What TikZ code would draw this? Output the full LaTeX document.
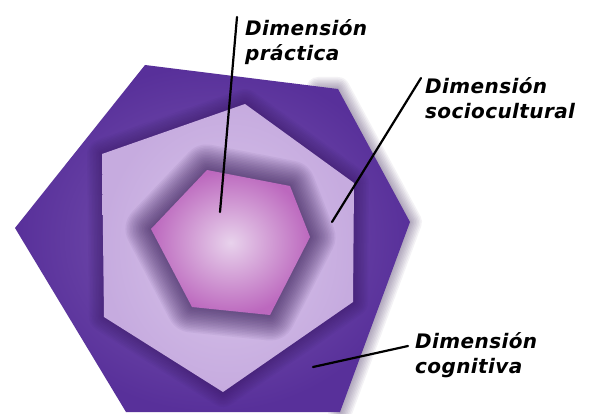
\documentclass[tikz,border=0pt]{standalone}
\usepackage{fontspec}
\newfontfamily\lblfont[LetterSpace=2]{DejaVu Sans}
\usetikzlibrary{positioning}

\definecolor{outerdark}{HTML}{58309A}
\definecolor{outermid}{HTML}{7E5AB4}
\definecolor{midlav}{HTML}{C6ABDF}
\definecolor{midlight}{HTML}{D8C4EA}
\definecolor{halo}{HTML}{2A0F4C}
\definecolor{innerpink}{HTML}{BC68BE}
\definecolor{innerlight}{HTML}{E8D2EC}

\tikzset{
    dimlabel/.style={anchor=north west, inner sep=0pt, align=left,
        font=\lblfont\bfseries\itshape\fontsize{20}{25}\selectfont},
    pointer/.style={line width=2.2pt, line cap=round, black},
    glow/.style={draw=halo, line join=round, line cap=round},
}

\begin{document}
\begin{tikzpicture}[x=1pt, y=-1pt]
    \useasboundingbox[fill=white] (0,0) rectangle (593,414);

    % corners of the three hexagons
    \coordinate (o1) at (145,65);  \coordinate (o2) at (338,89);
    \coordinate (o3) at (410,222); \coordinate (o4) at (340,412);
    \coordinate (o5) at (126,412); \coordinate (o6) at (15,228);
    \coordinate (m1) at (245,104); \coordinate (m2) at (354,183);
    \coordinate (m3) at (353,302); \coordinate (m4) at (223,392);
    \coordinate (m5) at (104,317); \coordinate (m6) at (102,154);
    \coordinate (i1) at (207,170); \coordinate (i2) at (290,186);
    \coordinate (i3) at (310,237); \coordinate (i4) at (270,315);
    \coordinate (i5) at (192,307); \coordinate (i6) at (151,229);
    \def\outerhex{(o1) -- (o2) -- (o3) -- (o4) -- (o5) -- (o6) -- cycle}
    \def\midhex{(m1) -- (m2) -- (m3) -- (m4) -- (m5) -- (m6) -- cycle}
    \def\innerhex{(i1) -- (i2) -- (i3) -- (i4) -- (i5) -- (i6) -- cycle}

    % soft shadow along the right edges of the outer hexagon
    \foreach \w in {3,6,...,24}
        \draw[glow, line width=\w pt, opacity=0.05, shift={(4,1)}]
            ([xshift=-20pt]o2) -- (o2) -- (o3) -- (o4);

    % cognitive dimension
    \shade[inner color=outermid, outer color=outerdark] \outerhex;
    \begin{scope}
        \clip \outerhex;
        \foreach \w in {3,6,...,30}
            \draw[glow, line width=\w pt, opacity=0.045, shift={(3,2)}] \midhex;
    \end{scope}

    % sociocultural dimension
    \shade[inner color=midlight, outer color=midlav] \midhex;
    \begin{scope}
        \clip \midhex;
        \foreach \w in {3,6,...,51}
            \draw[glow, line width=\w pt, opacity=0.05, shift={(3,4)}] \innerhex;
    \end{scope}

    % practical dimension
    \shade[inner color=innerlight, outer color=innerpink] \innerhex;

    % labels
    \node[dimlabel] (prac) at (245,19) {Dimensión\\práctica};
    \node[dimlabel] (socio) at (425,77) {Dimensión\\sociocultural};
    \node[dimlabel] (cogn) at (415,332) {Dimensión\\cognitiva};

    % pointer ends
    \coordinate (prac-in) at (220,212);
    \coordinate (socio-in) at (332,222);
    \coordinate (cogn-in) at (313,367);

    \draw[pointer] ([xshift=-8pt,yshift=2pt]prac.north west) -- (prac-in);
    \draw[pointer] ([xshift=-4pt,yshift=-1pt]socio.north west) -- (socio-in);
    \draw[pointer] ([xshift=-7pt,yshift=-14pt]cogn.north west) -- (cogn-in);
\end{tikzpicture}
\end{document}
